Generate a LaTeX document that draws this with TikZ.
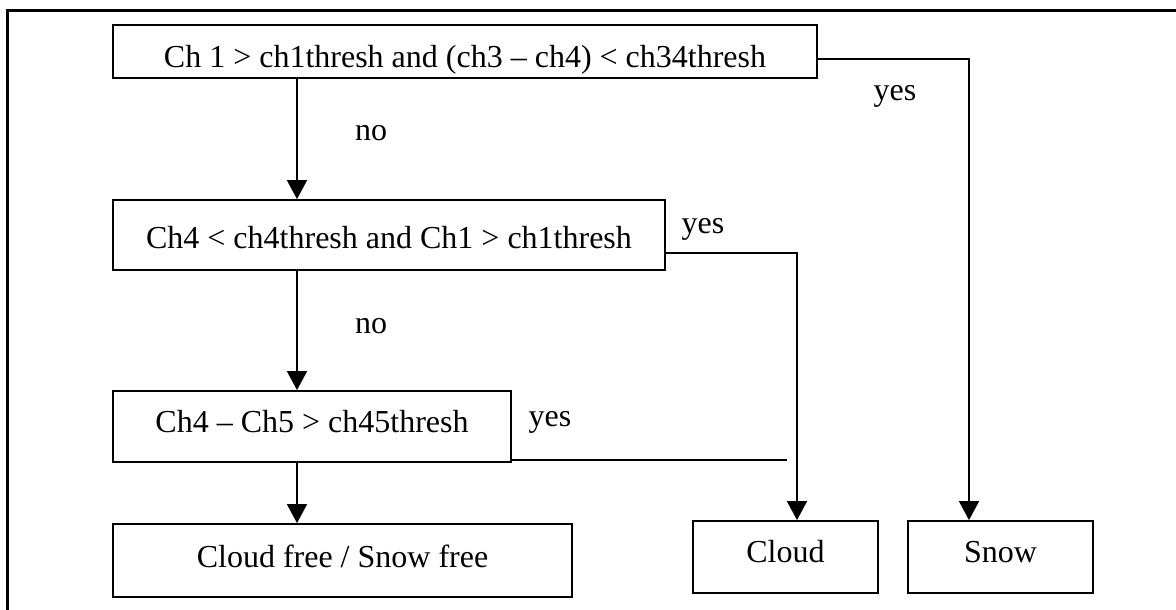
\documentclass[tikz,border=0pt]{standalone}
\usepackage{fontspec}
\setmainfont{Liberation Serif}
\usetikzlibrary{arrows.meta}
\begin{document}
\begin{tikzpicture}[x=1pt,y=-1pt,
  box/.style={draw, line width=1.8pt, inner sep=0pt, font=\fontsize{32}{38}\selectfont},
  lbl/.style={inner sep=0pt, anchor=base, font=\fontsize{32}{38}\selectfont},
  conn/.style={line width=1.8pt},
  arr/.style={line width=1.8pt, -{Triangle[length=19pt,width=20pt]}}]
\useasboundingbox (0,0) rectangle (1176,610);
\draw[line width=3pt] (7,610) -- (7,11) -- (1176,11);

\node[box, minimum width=704pt, text height=42pt, text depth=11pt] (b1) at (465,51.5) {Ch 1 > ch1thresh and (ch3 – ch4) < ch34thresh};
\node[box, minimum width=552pt, text height=48pt, text depth=22pt] (b2) at (389,235) {Ch4 < ch4thresh and Ch1 > ch1thresh};
\node[box, minimum width=398pt, text height=41pt, text depth=30pt] (b3) at (312,426.5) {Ch4 – Ch5 > ch45thresh};
\node[box, minimum width=459pt, text height=43pt, text depth=30pt] (b4) at (342.5,560.5) {Cloud free / Snow free};
\node[box, minimum width=185pt, text height=41pt, text depth=31pt] (cloud) at (785.5,557) {Cloud};
\node[box, minimum width=185pt, text height=41pt, text depth=31pt] (snow) at (1000.5,557) {Snow};

\coordinate (v) at (297,0);
\coordinate (k1) at (969,59);
\coordinate (k2) at (797,253);
\coordinate (k3) at (787,460);

\draw[arr] (b1.south -| v) -- (b2.north -| v);
\draw[arr] (b2.south -| v) -- (b3.north -| v);
\draw[arr] (b3.south -| v) -- (b4.north -| v);
\draw[arr] (b1.east |- k1) -- (k1) -- (k1 |- snow.north);
\draw[arr] (b2.east |- k2) -- (k2) -- (k2 |- cloud.north);
\draw[conn] (b3.east |- k3) -- (k3);

\node[lbl] (no1) at (371,140) {no};
\node[lbl] (no2) at (371,333) {no};
\node[lbl] (yes1) at (895,100) {yes};
\node[lbl] (yes2) at (703,233) {yes};
\node[lbl] (yes3) at (550,426) {yes};
\end{tikzpicture}
\end{document}
